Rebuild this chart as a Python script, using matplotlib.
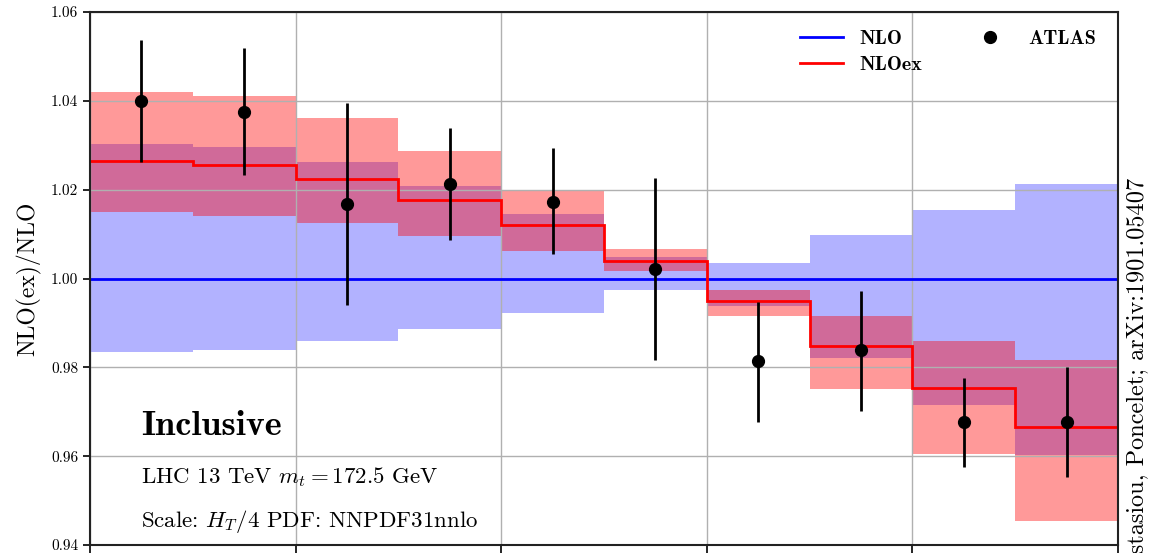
import numpy as np
import matplotlib.pyplot as plt

plt.rcParams['font.family'] = 'cmr10'
plt.rcParams['mathtext.fontset'] = 'cm'
plt.rcParams['axes.formatter.use_mathtext'] = True

# bin edges (equal-width bins)
edges = [0, 1, 2, 3, 4, 5, 6, 7, 8, 9, 10]
centres = [0.5, 1.5, 2.5, 3.5, 4.5, 5.5, 6.5, 7.5, 8.5, 9.5]

# NLO reference and its scale band
nlo = [1.0, 1.0, 1.0, 1.0, 1.0, 1.0, 1.0, 1.0, 1.0, 1.0]
nlo_up = [1.0302, 1.0297, 1.0262, 1.0208, 1.0146, 1.0049, 1.0035, 1.0098, 1.0155, 1.0213]
nlo_dn = [0.9835, 0.9839, 0.9860, 0.9887, 0.9923, 0.9974, 0.9938, 0.9820, 0.9716, 0.9603]

# NLOex ratio and band
nloex = [1.0265, 1.0255, 1.0225, 1.0177, 1.0121, 1.0039, 0.9949, 0.9847, 0.9753, 0.9665]
nloex_up = [1.0419, 1.0411, 1.0362, 1.0287, 1.0199, 1.0066, 0.9974, 0.9916, 0.9859, 0.9816]
nloex_dn = [1.0150, 1.0141, 1.0126, 1.0095, 1.0063, 1.0017, 0.9915, 0.9752, 0.9606, 0.9454]

# ATLAS data
atlas = [1.0399, 1.0375, 1.0167, 1.0213, 1.0173, 1.0021, 0.9814, 0.9838, 0.9677, 0.9677]
atlas_hi = [1.0536, 1.0520, 1.0394, 1.0338, 1.0293, 1.0227, 0.9946, 0.9972, 0.9776, 0.9800]
atlas_lo = [1.0263, 1.0233, 0.9940, 1.0087, 1.0055, 0.9816, 0.9677, 0.9702, 0.9576, 0.9554]

fig = plt.figure(figsize=(11.54, 5.53), dpi=100)
ax = fig.add_axes([90/1154, 1-545/553, 1028/1154, 533/553])

# bands
ax.stairs(nlo_up, edges, baseline=nlo_dn, fill=True, color='blue', alpha=0.3, lw=0)
ax.stairs(nloex_up, edges, baseline=nloex_dn, fill=True, color='red', alpha=0.4, lw=0)

# central lines (StepPatch defaults to patch zorder, lift above the grid)
ax.stairs(nlo, edges, baseline=None, color='blue', lw=2, label='NLO', zorder=2)
ax.stairs(nloex, edges, baseline=None, color='red', lw=2, label='NLOex', zorder=2)

# data
atlas = np.array(atlas)
yerr = [atlas - np.array(atlas_lo), np.array(atlas_hi) - atlas]
ax.errorbar(centres, atlas, yerr=yerr, fmt='none', ecolor='black', elinewidth=2, zorder=3)
ax.plot(centres, atlas, 'o', color='black', ms=8.5, label='ATLAS', zorder=4)

ax.set_xlim(0, 10)
ax.set_ylim(0.94, 1.06)
ax.set_xticks([0, 2, 4, 6, 8, 10])
ax.set_xticklabels([])
yt = np.arange(0.94, 1.0601, 0.02)
ax.set_yticks(yt)
ax.set_yticklabels(['%.2f' % v for v in yt])
ax.tick_params(axis='y', labelsize=11, length=5, width=1.2)
ax.tick_params(axis='x', length=7, width=1.2)
ax.grid(True, color='#b0b0b0', lw=1)
for s in ax.spines.values():
    s.set_linewidth(1.5)
    s.set_color('#222222')

ax.set_ylabel('NLO(ex)/NLO', fontsize=17, labelpad=7)

leg = ax.legend(ncol=2, loc='upper left', bbox_to_anchor=(710/1028, 0.967),
                frameon=False, borderaxespad=0, borderpad=0,
                handlelength=2.15, handletextpad=0.8, columnspacing=2.3,
                labelspacing=0.4, prop={'family': 'cmb10', 'size': 14.5})

ax.text(0.0496, 0.2064, 'Inclusive', transform=ax.transAxes, family='cmb10',
        fontsize=26, va='baseline')
ax.text(0.0496, 0.1163, r'LHC 13 TeV $m_t = 172.5$ GeV', transform=ax.transAxes,
        fontsize=16.5, va='baseline')
ax.text(0.0496, 0.0338, r'Scale: $H_T/4$ PDF: NNPDF31nnlo', transform=ax.transAxes,
        fontsize=16.5, va='baseline')

fig.text(1138/1154, 1-178/553, 'Behring, Czakon, Mitov, Papanastasiou, Poncelet; arXiv:1901.05407',
         rotation=90, ha='center', va='top', fontsize=17.5)

fig.savefig('out.png', dpi=100)
